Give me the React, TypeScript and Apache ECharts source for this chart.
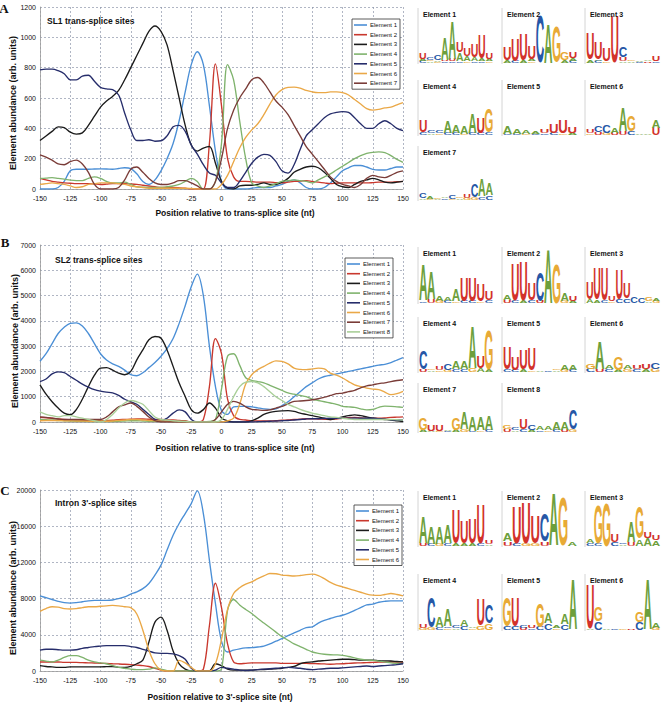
import React, { useEffect, useRef } from 'react';
import * as echarts from 'echarts';

const FF = "'Liberation Sans', Arial, sans-serif";

const POSITIONS = [
  -150, -145, -140, -135, -130, -125, -120, -115, -110, -105,
  -100, -95, -90, -85, -80, -75, -70, -65, -60, -55,
  -50, -45, -40, -35, -30, -25, -20, -15, -10, -5,
  0, 5, 10, 15, 20, 25, 30, 35, 40, 45,
  50, 55, 60, 65, 70, 75, 80, 85, 90, 95,
  100, 105, 110, 115, 120, 125, 130, 135, 140, 145,
  150,
];

const NAMES = ['Element 1', 'Element 2', 'Element 3', 'Element 4', 'Element 5', 'Element 6', 'Element 7', 'Element 8'];
const COLORS = ['#4b8fd6', '#c9382e', '#1b1b1b', '#7fb36d', '#262d6b', '#eaa847', '#7a3c38', '#a9cf98'];

// Panel A: SL1 trans-splice sites
const A_E1 = [0, 0, 0, 10, 50, 120, 130, 130, 130, 132, 133, 132, 130, 135, 140, 135, 100, 50, 30, 60, 120, 200, 300, 450, 640, 820, 905, 820, 550, 250, 50, 0, 0, 0, 0, 5, 10, 10, 10, 20, 30, 50, 60, 40, 10, 0, 0, 10, 40, 80, 120, 140, 155, 155, 145, 130, 125, 125, 135, 145, 145];
const A_E2 = [70, 60, 50, 45, 40, 38, 35, 35, 35, 33, 30, 32, 35, 35, 35, 33, 30, 25, 20, 15, 10, 10, 10, 8, 5, 0, 0, 0, 300, 825, 550, 200, 80, 50, 50, 48, 45, 45, 45, 42, 40, 45, 50, 52, 55, 50, 45, 40, 35, 38, 40, 40, 40, 40, 40, 42, 45, 45, 45, 48, 50];
const A_E3 = [320, 350, 380, 410, 405, 375, 362, 370, 420, 480, 540, 580, 610, 650, 720, 800, 880, 960, 1040, 1075, 1040, 950, 780, 600, 420, 290, 250, 270, 280, 170, 50, 5, 0, 20, 25, 25, 30, 40, 30, 30, 45, 70, 110, 130, 145, 150, 140, 110, 70, 30, 15, 10, 30, 50, 60, 70, 60, 45, 40, 45, 50];
const A_E4 = [70, 72, 75, 70, 65, 58, 55, 55, 70, 80, 70, 50, 40, 40, 45, 30, 15, 12, 10, 10, 10, 15, 20, 30, 50, 70, 50, 0, 0, 50, 300, 820, 720, 450, 200, 40, 20, 10, 20, 35, 50, 55, 60, 55, 50, 40, 60, 80, 100, 125, 150, 175, 200, 220, 235, 242, 245, 240, 220, 195, 175];
const A_E5 = [785, 790, 790, 780, 760, 720, 720, 745, 750, 710, 670, 660, 655, 620, 500, 390, 320, 320, 325, 315, 318, 350, 410, 420, 380, 290, 230, 160, 105, 90, 40, 10, 10, 50, 110, 170, 210, 228, 222, 180, 120, 105, 160, 260, 350, 390, 430, 470, 495, 505, 510, 505, 470, 430, 400, 400, 430, 450, 430, 400, 385];
const A_E6 = [30, 35, 40, 35, 30, 20, 10, 15, 30, 35, 40, 40, 40, 35, 30, 20, 15, 10, 5, 5, 5, 5, 5, 5, 5, 3, 0, 0, 0, 0, 30, 90, 180, 270, 340, 390, 430, 490, 560, 620, 655, 670, 672, 665, 650, 640, 635, 635, 640, 640, 635, 620, 590, 560, 530, 520, 525, 535, 540, 555, 570];
const A_E7 = [225, 210, 190, 165, 160, 180, 190, 165, 110, 30, 0, 0, 0, 10, 60, 130, 145, 110, 70, 40, 30, 30, 40, 55, 55, 40, 20, 0, 0, 50, 200, 400, 520, 600, 660, 720, 735, 700, 640, 580, 540, 490, 420, 350, 280, 230, 180, 130, 80, 50, 30, 20, 10, 30, 70, 90, 80, 75, 90, 110, 120];

// Panel B: SL2 trans-splice sites
const B_E1 = [2400, 2700, 3100, 3500, 3750, 3900, 3920, 3800, 3500, 3100, 2700, 2450, 2300, 2200, 2050, 1870, 1830, 1950, 2150, 2350, 2600, 2900, 3300, 3900, 4600, 5350, 5850, 5000, 3000, 1400, 450, 300, 600, 620, 620, 600, 560, 520, 500, 520, 650, 800, 1000, 1200, 1400, 1550, 1700, 1800, 1850, 1900, 1950, 2000, 2050, 2100, 2150, 2200, 2250, 2280, 2350, 2450, 2550];
const B_E2 = [180, 170, 150, 120, 100, 90, 80, 70, 60, 55, 50, 60, 70, 90, 100, 110, 120, 120, 110, 105, 100, 90, 80, 60, 50, 0, 0, 100, 1400, 3300, 2700, 900, 250, 100, 80, 50, 40, 40, 45, 50, 70, 80, 100, 110, 130, 130, 120, 110, 100, 120, 150, 170, 180, 160, 150, 150, 150, 160, 180, 190, 200];
const B_E3 = [1470, 1100, 800, 550, 350, 290, 490, 900, 1400, 1850, 2130, 2150, 2050, 1930, 1870, 2000, 2460, 2850, 3250, 3380, 3315, 2850, 2200, 1540, 1010, 490, 350, 490, 750, 550, 160, 50, 0, 0, 0, 50, 150, 300, 380, 420, 440, 450, 420, 350, 300, 250, 200, 150, 100, 150, 200, 250, 280, 250, 200, 150, 120, 100, 80, 50, 20];
const B_E4 = [100, 90, 80, 60, 50, 40, 30, 25, 20, 20, 20, 20, 20, 30, 40, 50, 50, 40, 30, 30, 30, 30, 20, 20, 20, 10, 0, 0, 20, 100, 1300, 2600, 2700, 2250, 1750, 1650, 1600, 1550, 1450, 1350, 1250, 1150, 1100, 1050, 1000, 900, 850, 800, 750, 700, 620, 600, 580, 520, 480, 500, 580, 630, 620, 600, 580];
const B_E5 = [1600, 1700, 1900, 1980, 1950, 1800, 1650, 1500, 1380, 1280, 1220, 1180, 1150, 1050, 900, 800, 700, 500, 300, 100, 50, 150, 350, 480, 400, 100, 0, 0, 0, 0, 0, 0, 0, 0, 0, 0, 10, 20, 30, 40, 50, 60, 80, 100, 120, 130, 130, 140, 150, 150, 150, 150, 160, 150, 150, 150, 130, 110, 90, 80, 80];
const B_E6 = [50, 60, 60, 60, 50, 50, 40, 40, 30, 30, 30, 30, 40, 60, 80, 100, 100, 80, 60, 50, 40, 30, 20, 10, 0, 0, 0, 0, 0, 0, 0, 50, 150, 700, 1500, 1870, 2070, 2200, 2330, 2420, 2400, 2300, 2130, 2080, 2070, 2100, 2130, 2100, 1930, 1850, 1740, 1600, 1470, 1400, 1340, 1300, 1280, 1180, 1080, 1120, 1210];
const B_E7 = [200, 180, 150, 120, 100, 100, 100, 100, 100, 100, 100, 200, 400, 600, 680, 750, 620, 420, 200, 50, 0, 0, 0, 0, 0, 0, 0, 0, 0, 100, 400, 700, 815, 750, 600, 500, 480, 460, 480, 550, 620, 720, 815, 830, 850, 880, 920, 980, 1050, 1120, 1145, 1200, 1250, 1350, 1430, 1470, 1520, 1550, 1600, 1640, 1670];
const B_E8 = [400, 300, 250, 200, 250, 250, 200, 150, 100, 50, 0, 100, 300, 550, 750, 850, 800, 700, 450, 200, 100, 80, 50, 30, 20, 0, 0, 0, 0, 0, 100, 500, 1000, 1400, 1580, 1600, 1550, 1400, 1200, 1000, 850, 700, 600, 500, 420, 350, 300, 250, 200, 180, 150, 120, 100, 100, 100, 100, 100, 100, 100, 90, 80];

// Panel C: Intron 3'-splice sites
const C_E1 = [8300, 8100, 7900, 7700, 7550, 7500, 7550, 7650, 7750, 7800, 7800, 7800, 7850, 8000, 8200, 8490, 8750, 9100, 9670, 10600, 11700, 13360, 15000, 16300, 17400, 18500, 19900, 17400, 12250, 7450, 3300, 2100, 2300, 2450, 2550, 2580, 2650, 2750, 3000, 3300, 3580, 3900, 4200, 4500, 4800, 4870, 5300, 5600, 5800, 6000, 6160, 6400, 6700, 7000, 7300, 7380, 7600, 7700, 7750, 7750, 7750];
const C_E2 = [1000, 1000, 1000, 1000, 950, 950, 950, 920, 900, 880, 850, 830, 800, 780, 750, 700, 650, 600, 500, 300, 100, 0, 0, 0, 0, 0, 0, 200, 5000, 9700, 7000, 3000, 1000, 800, 850, 900, 900, 900, 900, 900, 850, 850, 850, 850, 850, 820, 800, 780, 750, 780, 800, 850, 880, 900, 920, 950, 980, 1000, 1000, 1000, 1000];
const C_E3 = [600, 500, 450, 400, 400, 450, 450, 450, 450, 450, 450, 480, 500, 400, 400, 500, 800, 1200, 3200, 5400, 5950, 4500, 2200, 800, 200, 0, 0, 0, 0, 800, 600, 200, 100, 100, 100, 100, 150, 170, 200, 250, 300, 400, 500, 800, 950, 1000, 1100, 1150, 1200, 1250, 1300, 1300, 1250, 1200, 1200, 1200, 1150, 1120, 1100, 1050, 1000];
const C_E4 = [1200, 1100, 1000, 1200, 1500, 1700, 1700, 1500, 1200, 1000, 900, 800, 600, 400, 300, 200, 150, 150, 200, 350, 200, 50, 0, 0, 0, 0, 0, 0, 0, 0, 200, 6700, 7900, 7300, 6800, 6350, 5800, 5300, 4800, 4300, 3800, 3400, 3000, 2700, 2400, 2100, 1950, 1850, 1800, 1780, 1730, 1600, 1450, 1300, 1200, 1180, 1100, 1000, 900, 850, 810];
const C_E5 = [2300, 2400, 2400, 2350, 2300, 2300, 2350, 2500, 2600, 2700, 2750, 2800, 2800, 2800, 2800, 2700, 2600, 2400, 2200, 2000, 1950, 1950, 1900, 1700, 1300, 300, 0, 0, 0, 100, 400, 300, 200, 100, 50, 100, 150, 200, 250, 300, 350, 400, 350, 300, 200, 150, 200, 250, 300, 300, 350, 400, 450, 500, 550, 500, 550, 600, 650, 700, 800];
const C_E6 = [6600, 6900, 7100, 7050, 6900, 6850, 6900, 7000, 7100, 7100, 7150, 7200, 7250, 7200, 7100, 7000, 6300, 4500, 2300, 800, 100, 0, 0, 1180, 900, 400, 0, 0, 0, 800, 3500, 6800, 8560, 9200, 9600, 9850, 10200, 10500, 10770, 10750, 10600, 10550, 10500, 10550, 10650, 10700, 10550, 10200, 9800, 9500, 9300, 9100, 8900, 8700, 8500, 8380, 8350, 8450, 8560, 8450, 8300];

const A_SERIES = [A_E1, A_E2, A_E3, A_E4, A_E5, A_E6, A_E7];
const B_SERIES = [B_E1, B_E2, B_E3, B_E4, B_E5, B_E6, B_E7, B_E8];
const C_SERIES = [C_E1, C_E2, C_E3, C_E4, C_E5, C_E6];

const A_YMAX = 1200, A_YSTEP = 200;
const B_YMAX = 7000, B_YSTEP = 1000;
const C_YMAX = 20000, C_YSTEP = 4000;

// Sequence logos: columns bottom→top, letter + height in % of logo box height
const LOGO_A = [
  ['C4 A4 U12', 'A3 G3 C6', 'G2 A3 C10', 'C3 U3 A44', 'C3 U4 A74', 'C3 A16 U20', 'G3 A10 U16', 'C3 A8 U24', 'C3 A6 U45', 'G3 A4 U12'],
  ['A5 U26', 'C4 U44', 'A5 U50', 'G3 A4 U26', 'C92', 'A76', 'G70', 'A6 G14', 'C4 A6 U12'],
  ['A6 U50', 'C4 A3 U34', 'G3 U24', 'U91', 'A3 U8 C20', 'A3 G2', 'C2 A2', 'U3 A2', 'C3 U10'],
  ['C5 U22', 'A3 C4', 'G3 C4', 'C4 A22', 'C4 A14', 'G3 A14', 'C4 A38', 'C4 U30', 'C6 G46'],
  ['C3 A14', 'C3 A11', 'G2 A8', 'C2 A6', 'C3 U8', 'C4 U18', 'G3 U24', 'A4 U13'],
  ['G3 U8', 'U6 C12', 'G4 C14', 'U4 A10', 'U8 A46', 'C8 G30', 'A3', 'A2', 'U14 A14'],
  ['A3 C10', 'G2 A4', 'A2 G3', 'C3 A2', 'G2 C8', 'A3 G2', 'G4 U8', 'G5 C24', 'C6 A32', 'C8 A22'],
];
const LOGO_B = [
  ['C3 A64', 'U6 A50', 'G4 A10', 'C4 A8', 'G3 A22', 'C4 U44', 'C4 U44', 'G3 U32', 'C4 U16'],
  ['U5 A10', 'C4 U68', 'A5 U72', 'C5 U30', 'U4 C52', 'A98', 'G72', 'G4 A14', 'A4 U10'],
  ['A6 U30', 'A5 U58', 'C4 U60', 'G3 U10', 'C6 U56', 'C8 U28', 'C12', 'C10', 'A3 G6', 'G4 A4'],
  ['U4 C34', 'A3 G3', 'G3 U6', 'G4 C12', 'C5 A14', 'C5 A14', 'G6 A78', 'A6 U22', 'A4 G72'],
  ['C5 U40', 'C4 U24', 'A4 U36', 'G3 U42', 'A3', 'C2', 'A3 G3', 'G4 A10', 'C4 A10'],
  ['C6 G10', 'U4 A50', 'C5 A8', 'A4 G24', 'G5 A8', 'C5 U8', 'A5 U10', 'G6 C12'],
  ['A4 G22', 'A3 U12', 'G3 U12', 'C2 A3', 'A4 G22', 'G4 A32', 'C3 A26', 'G3 A24', 'C4 A26'],
  ['U5 G8', 'A3 C4', 'C5 U18', 'A4 C10', 'C3 A8', 'G3 A6', 'C4 A14', 'U4 A14', 'G4 C36'],
];
const LOGO_C = [
  ['U5 A48', 'C4 A30', 'G4 A30', 'C4 A34', 'A4 U62', 'A5 U42', 'A4 U46', 'C4 U72', 'A3 U8'],
  ['U8 A14', 'C4 U68', 'G4 U74', 'G5 U50', 'U8 C50', 'A96', 'G90', 'A6'],
  ['C5 A8', 'C4 G70', 'G80', 'C8 U14', 'A3 C3', 'U6 A38', 'A12 G58', 'A14 U12', 'A10 U10'],
  ['G4 U8', 'G4 C56', 'C5 A18', 'G3 C3 A32', 'A3 C4', 'C8 A12', 'G3 A2', 'G8 U48', 'G12 C34'],
  ['C8 G52', 'C8 U52', 'U4 C4', 'C3 U5', 'C6 G44', 'C12 A18', 'G3 A5', 'C10 A18', 'A92'],
  ['A2 U82', 'C15 G27', 'A2', 'C2', 'G2', 'U2', 'C15 G18', 'A92', 'G4 A10'],
];

const LETTER_COLORS: Record<string, string> = { A: '#6d9f3c', C: '#2657a6', G: '#e8aa36', U: '#d2322b' };

const LOGO_X = [418, 502, 585];

function logoBlock(logos: string[][], baselines: number[], titleYs: number[], H: number) {
  const els: any[] = [];
  const W = 74;
  logos.forEach((cols, k) => {
    const row = Math.floor(k / 3);
    const ax = LOGO_X[k % 3];
    const base = baselines[row];
    els.push({
      type: 'line', silent: true,
      shape: { x1: ax, y1: titleYs[row] - 6, x2: ax, y2: base + 1 },
      style: { stroke: '#c9c9c9', lineWidth: 0.8 },
    });
    const cw = W / cols.length;
    cols.forEach((col, i) => {
      let y = base;
      col.split(' ').forEach((tok) => {
        const letter = tok[0];
        const h = (parseFloat(tok.slice(1)) / 100) * H;
        if (h >= 0.6) {
          const F = 20;
          els.push({
            type: 'text', silent: true,
            x: ax + 1 + cw * (i + 0.5),
            y: y - h / 2,
            scaleX: (cw * 0.94) / (0.66 * F),
            scaleY: h / (0.716 * F),
            style: {
              text: letter, fontSize: F, fontWeight: 'bold', fontFamily: FF,
              fill: LETTER_COLORS[letter], align: 'center', verticalAlign: 'middle',
            },
          });
        }
        y -= h;
      });
    });
    els.push({
      type: 'text', silent: true, x: ax + 5, y: titleYs[row], z: 10,
      style: { text: NAMES[k], fontSize: 7, fontWeight: 'bold', fontFamily: FF, fill: '#111', align: 'left', verticalAlign: 'middle' },
    });
  });
  return els;
}

function txt(text: string, x: number, y: number, opts: any = {}) {
  const { rotation, ...style } = opts;
  return {
    type: 'text', silent: true, x, y, rotation: rotation || 0,
    style: { text, fontFamily: FF, fill: '#111', align: 'center', verticalAlign: 'middle', ...style },
  };
}

export default function App() {
  const ref = useRef<HTMLDivElement>(null);
  useEffect(() => {
    if (!ref.current) return;
    const chart = echarts.init(ref.current, undefined, { renderer: 'svg' });

    const grids = [
      { left: 40, top: 7, width: 363, height: 182 },
      { left: 40, top: 245, width: 363, height: 177 },
      { left: 40, top: 490, width: 363, height: 181 },
    ];
    const ymax = [A_YMAX, B_YMAX, C_YMAX];
    const ystep = [A_YSTEP, B_YSTEP, C_YSTEP];

    const xAxes = grids.map((_, g) => ({
      type: 'value', gridIndex: g, min: -150, max: 150, interval: 25,
      axisLine: { show: true, onZero: false, lineStyle: { color: '#9a9a9a', width: 0.8 } },
      axisTick: { show: false },
      axisLabel: { fontSize: 7, color: '#111', margin: 6, fontFamily: FF, formatter: (v: number) => String(v) },
      splitLine: { show: true, lineStyle: { type: [2, 2], color: '#8e96aa', width: 0.7 } },
    }));
    const yAxes = grids.map((_, g) => ({
      type: 'value', gridIndex: g, min: 0, max: ymax[g], interval: ystep[g],
      axisLine: { show: true, onZero: false, lineStyle: { color: '#9a9a9a', width: 0.8 } },
      axisTick: { show: false },
      axisLabel: { fontSize: 7, color: '#111', margin: 4, fontFamily: FF, formatter: (v: number) => String(v) },
      splitLine: { show: true, lineStyle: { type: [2, 2], color: '#8e96aa', width: 0.7 } },
    }));

    const series: any[] = [];
    [A_SERIES, B_SERIES, C_SERIES].forEach((set, g) => {
      set.forEach((vals, i) => {
        series.push({
          type: 'line', name: NAMES[i], xAxisIndex: g, yAxisIndex: g,
          data: POSITIONS.map((p, j) => [p, vals[j]]),
          smooth: 0.35, symbol: 'none', showSymbol: false,
          lineStyle: { width: 1.35, color: COLORS[i] },
          itemStyle: { color: COLORS[i] },
        });
      });
    });

    const legendBase = {
      orient: 'vertical', selectedMode: false, icon: 'rect', itemWidth: 13, itemHeight: 1.6, itemGap: 1.7,
      backgroundColor: '#fff', borderColor: '#333', borderWidth: 0.8, borderRadius: 0,
      padding: [2, 3, 2, 2],
      textStyle: { fontSize: 6, lineHeight: 8, color: '#111', fontFamily: FF, padding: [0, 0, 0, -2] },
    };

    const graphic: any[] = [
      txt('A', 4, 8, { fontSize: 13, fontWeight: 'bold', fontFamily: "'Liberation Serif', serif" }),
      txt('B', 5, 242, { fontSize: 13, fontWeight: 'bold', fontFamily: "'Liberation Serif', serif" }),
      txt('C', 5, 490, { fontSize: 13, fontWeight: 'bold', fontFamily: "'Liberation Serif', serif" }),
      txt('SL1 trans-splice sites', 47, 21, { fontSize: 8.5, fontWeight: 'bold', align: 'left' }),
      txt('SL2 trans-splice sites', 55, 260, { fontSize: 8.5, fontWeight: 'bold', align: 'left' }),
      txt("Intron 3'-splice sites", 55, 503, { fontSize: 8.5, fontWeight: 'bold', align: 'left' }),
      txt('Position relative to trans-splice site (nt)', 235, 213, { fontSize: 8.5, fontWeight: 'bold' }),
      txt('Position relative to trans-splice site (nt)', 235, 448, { fontSize: 8.5, fontWeight: 'bold' }),
      txt("Position relative to 3'-splice site (nt)", 220, 697, { fontSize: 8.5, fontWeight: 'bold' }),
      txt('Element abundance (arb. units)', 13, 103, { fontSize: 9, fontWeight: 'bold', rotation: Math.PI / 2 }),
      txt('Element abundance (arb. units)', 15, 341, { fontSize: 9, fontWeight: 'bold', rotation: Math.PI / 2 }),
      txt('Element abundance (arb. units)', 13, 588, { fontSize: 9, fontWeight: 'bold', rotation: Math.PI / 2 }),
      ...logoBlock(LOGO_A, [63, 135, 200], [14, 86, 152], 52),
      ...logoBlock(LOGO_B, [303, 372, 432], [253, 323, 389], 55),
      ...logoBlock(LOGO_C, [546, 630], [497, 580], 55),
    ];

    chart.setOption({
      animation: false,
      backgroundColor: '#fff',
      grid: grids,
      xAxis: xAxes,
      yAxis: yAxes,
      legend: [
        { ...legendBase, data: NAMES.slice(0, 7), left: 352, top: 19 },
        { ...legendBase, data: NAMES.slice(0, 8), left: 345, top: 258 },
        { ...legendBase, data: NAMES.slice(0, 6), left: 354, top: 505 },
      ],
      series,
      graphic,
    });
    return () => chart.dispose();
  }, []);
  return <div ref={ref} style={{ position: 'absolute', left: 0, top: 0, width: 664, height: 702, background: '#fff' }} />;
}
